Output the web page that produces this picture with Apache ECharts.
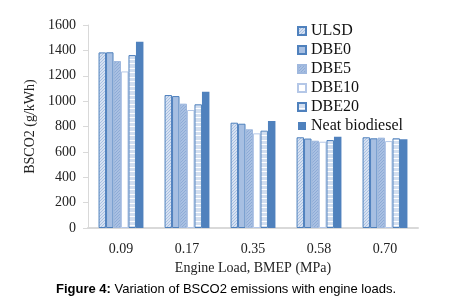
<!DOCTYPE html>
<html>
<head>
<meta charset="utf-8">
<script src="https://cdn.jsdelivr.net/npm/echarts@6/dist/echarts.min.js"></script>
<style>
  html, body { margin: 0; padding: 0; background: #fff; }
  #chart { width: 452px; height: 306px; }
</style>
</head>
<body>
<div id="chart"></div>
<script>
// Data
const loads = ['0.09', '0.17', '0.35', '0.58', '0.70'];
const ulsd = [1384, 1048, 830, 715, 715];
const dbe0 = [1385, 1040, 822, 705, 707];
const dbe5 = [1316, 980, 778, 688, 712];
const dbe10 = [1234, 930, 746, 680, 685];
const dbe20 = [1363, 975, 767, 693, 707];
const neat = [1468, 1074, 843, 720, 699];
const yTicks = [0, 200, 400, 600, 800, 1000, 1200, 1400, 1600];

const serif = '"Liberation Serif", "DejaVu Serif", serif';
const blue = '#4f81bd';

// small canvas patterns to mimic the Excel fills
function makePattern(w, h, bg, draw) {
  const c = document.createElement('canvas');
  c.width = w; c.height = h;
  const ctx = c.getContext('2d');
  ctx.fillStyle = bg;
  ctx.fillRect(0, 0, w, h);
  draw(ctx);
  return { image: c, repeat: 'repeat' };
}
const dotted = (bg, fg) => makePattern(3, 3, bg, ctx => {
  ctx.fillStyle = fg;
  ctx.fillRect(0, 0, 1, 1);
  ctx.fillRect(2, 1, 1, 1);
  ctx.fillRect(1, 2, 1, 1);
});
const striped = makePattern(4, 9, '#d3dff0', ctx => {
  ctx.fillStyle = '#ffffff';
  ctx.fillRect(0, 0, 4, 1);
  ctx.fillRect(0, 5, 4, 1);
});

const fills = {
  ULSD: dotted('#d6e1f1', '#a9c0e2'),
  DBE0: '#a7bfe2',
  DBE5: dotted('#a9c0e2', '#8eabd6'),
  DBE10: '#ffffff',
  DBE20: striped,
  Neat: blue
};

function barSeries(name, data, fill, border) {
  return {
    name: name,
    type: 'bar',
    data: data,
    barGap: '0%',
    barCategoryGap: '32%',
    itemStyle: {
      color: fill,
      borderColor: border,
      borderWidth: border ? 1 : 0
    }
  };
}

const chart = echarts.init(document.getElementById('chart'));
chart.setOption({
  animation: false,
  backgroundColor: '#fff',
  grid: { left: 88, right: 34, top: 25, bottom: 78 },
  title: {
    text: '{b|Figure 4:} Variation of BSCO2 emissions with engine loads.',
    left: 'center',
    bottom: 5,
    textStyle: {
      fontFamily: '"Liberation Sans", Arial, sans-serif',
      fontSize: 13,
      fontWeight: 'normal',
      color: '#000',
      rich: {
        b: { fontFamily: '"Liberation Sans", Arial, sans-serif', fontSize: 13, fontWeight: 'bold', color: '#000' }
      }
    }
  },
  legend: {
    orient: 'vertical',
    left: 292,
    top: 18,
    itemWidth: 8,
    itemHeight: 8,
    itemGap: 3,
    icon: 'rect',
    textStyle: { fontFamily: serif, fontSize: 16, color: '#111' },
    data: ['ULSD', 'DBE0', 'DBE5', 'DBE10', 'DBE20', 'Neat biodiesel']
  },
  xAxis: {
    type: 'category',
    data: loads,
    name: 'Engine Load, BMEP (MPa)',
    nameLocation: 'middle',
    nameGap: 33,
    nameTextStyle: { fontFamily: serif, fontSize: 14, color: '#222' },
    axisTick: { show: false },
    axisLine: { lineStyle: { color: '#d9d9d9', width: 2 } },
    axisLabel: { fontFamily: serif, fontSize: 14, color: '#222', margin: 14 }
  },
  yAxis: {
    type: 'value',
    min: yTicks[0],
    max: yTicks[yTicks.length - 1],
    interval: 200,
    name: 'BSCO2 (g/kWh)',
    nameLocation: 'middle',
    nameGap: 46,
    nameTextStyle: { fontFamily: serif, fontSize: 14, color: '#222' },
    axisLine: { show: true, lineStyle: { color: '#d9d9d9' } },
    axisTick: { show: true, length: 5, lineStyle: { color: '#d9d9d9' } },
    splitLine: { show: false },
    axisLabel: { fontFamily: serif, fontSize: 14, color: '#222', margin: 12, formatter: v => String(v) }
  },
  series: [
    barSeries('ULSD', ulsd, fills.ULSD, blue),
    barSeries('DBE0', dbe0, fills.DBE0, blue),
    barSeries('DBE5', dbe5, fills.DBE5, '#9fb8de'),
    barSeries('DBE10', dbe10, fills.DBE10, '#b4c7e7'),
    barSeries('DBE20', dbe20, fills.DBE20, blue),
    barSeries('Neat biodiesel', neat, fills.Neat, null)
  ]
});
</script>
</body>
</html>
